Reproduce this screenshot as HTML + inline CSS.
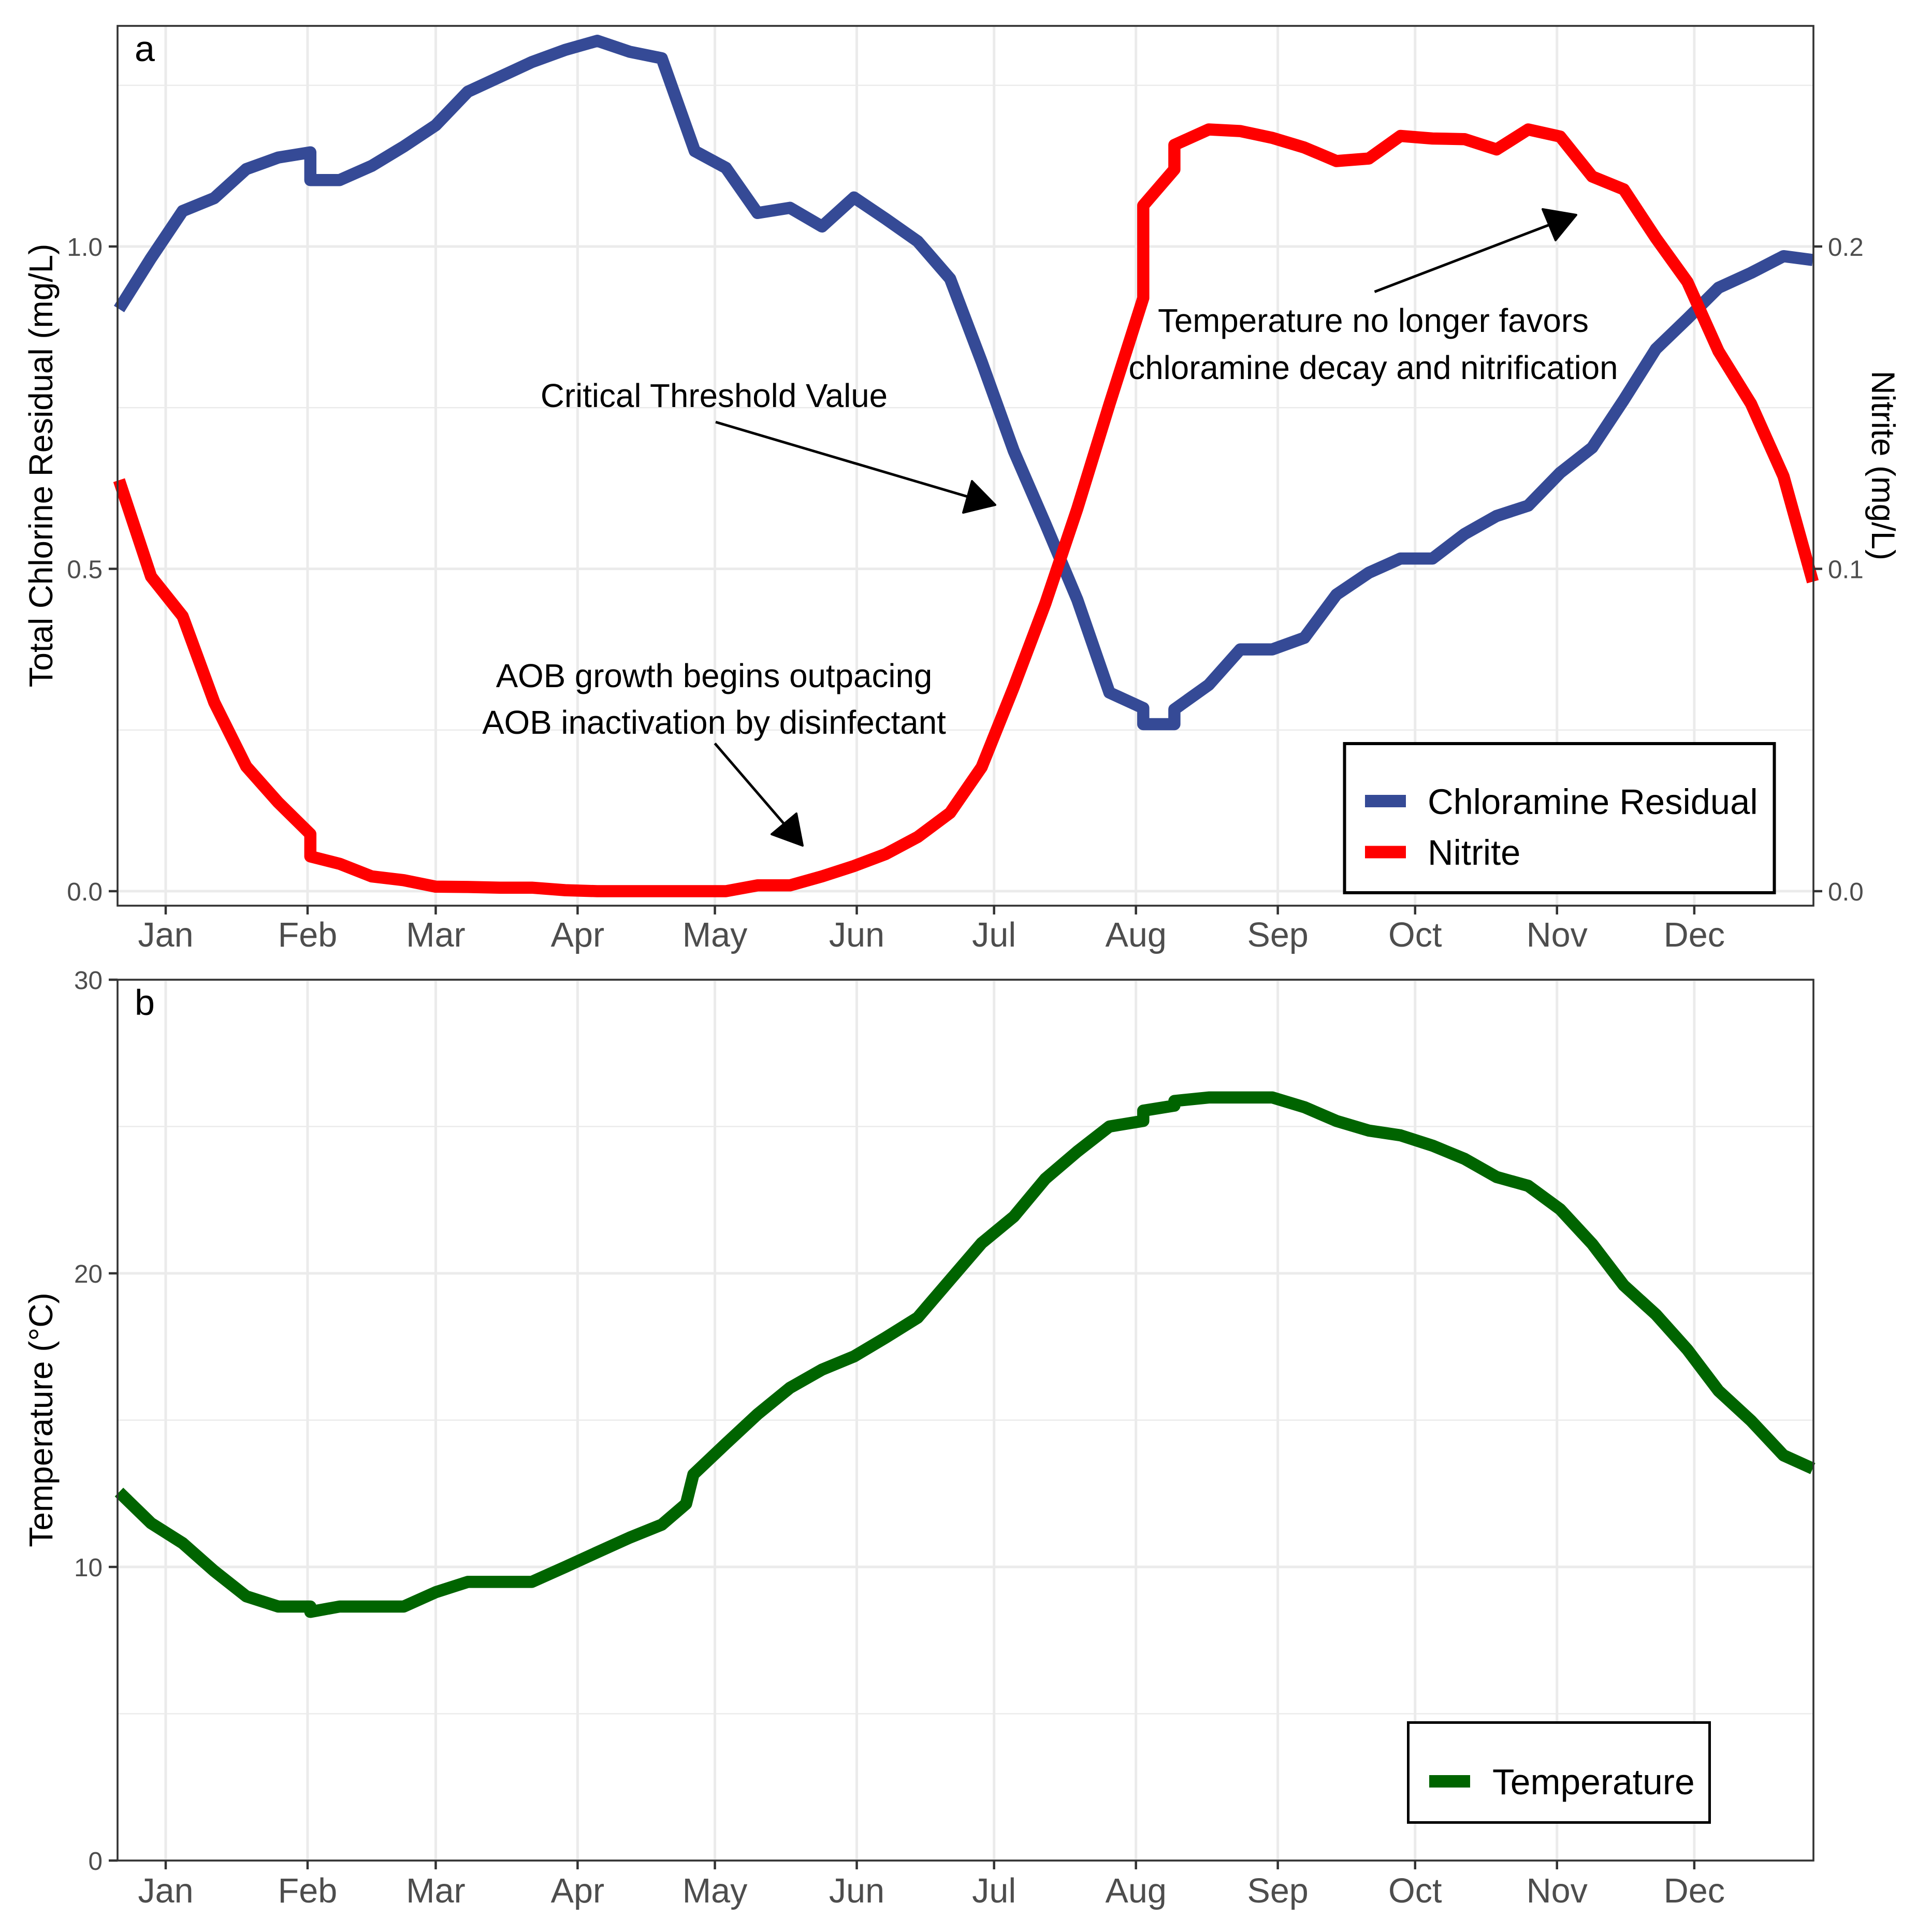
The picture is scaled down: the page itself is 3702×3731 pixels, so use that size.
<!DOCTYPE html>
<html lang="en">
<head>
<meta charset="utf-8">
<title>Chloramine residual, nitrite and temperature</title>
<style>
html,body{margin:0;padding:0;background:#fff;}
svg{display:block;font-family:"Liberation Sans",Arial,sans-serif;}
</style>
</head>
<body>
<svg id="chart" xmlns="http://www.w3.org/2000/svg" width="3702" height="3731" viewBox="0 0 3702 3731">
  <rect width="3702" height="3731" fill="#fff"/>
  <g id="grid-layer"></g>
  <g id="series-layer"></g>
  <g id="axis-layer"></g>

  <text x="260" y="118" font-size="70" fill="#000">a</text>
  <text x="260" y="1960" font-size="70" fill="#000">b</text>

  <text transform="translate(101,899) rotate(-90)" text-anchor="middle" font-size="63.7" fill="#000">Total Chlorine Residual (mg/L)</text>
  <text transform="translate(3615,899) rotate(90)" text-anchor="middle" font-size="63.4" fill="#000">Nitrite (mg/L)</text>
  <text transform="translate(101,2742) rotate(-90)" text-anchor="middle" font-size="64" fill="#000">Temperature (°C)</text>

  <g>
    <text x="1379" y="786" text-anchor="middle" font-size="63.7" fill="#000">Critical Threshold Value</text>
    <line x1="1382" y1="815" x2="1875" y2="961" stroke="#000" stroke-width="5"/>
    <polygon points="1922,975 1877,929 1860,990" fill="#000" stroke="#000" stroke-width="4" stroke-linejoin="round"/>
  </g>
  <g>
    <text x="1379" y="1327" text-anchor="middle" font-size="63.7" fill="#000">AOB growth begins outpacing</text>
    <text x="1379" y="1417" text-anchor="middle" font-size="63.7" fill="#000">AOB inactivation by disinfectant</text>
    <line x1="1380.5" y1="1435.6" x2="1515" y2="1592" stroke="#000" stroke-width="5"/>
    <polygon points="1550,1633 1538,1571 1490,1611" fill="#000" stroke="#000" stroke-width="4" stroke-linejoin="round"/>
  </g>
  <g>
    <text x="2652" y="641" text-anchor="middle" font-size="63.7" fill="#000">Temperature no longer favors</text>
    <text x="2652" y="732" text-anchor="middle" font-size="63.7" fill="#000">chloramine decay and nitrification</text>
    <line x1="2654.5" y1="563.5" x2="2995" y2="433" stroke="#000" stroke-width="5"/>
    <polygon points="3044,415 2979,404 3004,464" fill="#000" stroke="#000" stroke-width="4" stroke-linejoin="round"/>
  </g>

  <g>
    <rect x="2596.5" y="1436" width="830" height="288" fill="#fff" stroke="#000" stroke-width="6"/>
    <rect x="2636" y="1535" width="79" height="24" fill="#354A96"/>
    <text x="2757" y="1572" font-size="68.7" fill="#000">Chloramine Residual</text>
    <rect x="2636" y="1633.5" width="79" height="24" fill="#FF0000"/>
    <text x="2757" y="1670" font-size="68.7" fill="#000">Nitrite</text>
  </g>
  <g>
    <rect x="2719.5" y="3326.5" width="582" height="193" fill="#fff" stroke="#000" stroke-width="5"/>
    <rect x="2760" y="3428" width="79" height="24" fill="#006400"/>
    <text x="2882" y="3465" font-size="69.6" fill="#000">Temperature</text>
  </g>
</svg>

<script>
// ---------- data ----------
const monthLabels = ["Jan","Feb","Mar","Apr","May","Jun","Jul","Aug","Sep","Oct","Nov","Dec"];
const monthStartDays = [0,31,59,90,120,151,181,212,243,273,304,334];

const chlorTicks = [0, 0.5, 1.0];
const chlorMinorTicks = [0.25, 0.75, 1.25];
const nitriteTicks = [0, 0.1, 0.2];
const tempTicks = [0, 10, 20, 30];
const tempMinorTicks = [5, 15, 25];

const sampleDays = [-10.2,-3.2,3.7,10.6,17.6,24.6,31.6,31.6,38,45,52,59,66,73,80,87.3,94.3,101.4,108.4,115.6,122.4,129.3,136.4,143.4,150.4,157.3,164.3,171.4,178.3,185.3,192.2,199.2,206.2,213.6,213.6,220.4,220.4,227.9,234.8,241.8,248.8,255.8,262.9,269.8,276.8,283.8,290.8,297.7,304.7,311.7,318.6,325.6,332.5,339.3,346.4,353.5,359.9];

const chloramine = [0.903,0.982,1.055,1.075,1.120,1.138,1.146,1.103,1.103,1.125,1.155,1.188,1.240,1.263,1.286,1.305,1.319,1.302,1.292,1.148,1.122,1.052,1.060,1.031,1.076,1.043,1.008,0.950,0.821,0.683,0.570,0.452,0.308,0.284,0.259,0.259,0.282,0.320,0.375,0.375,0.393,0.460,0.494,0.516,0.516,0.554,0.582,0.598,0.649,0.688,0.762,0.841,0.888,0.936,0.959,0.985,0.979];

const nitrite = [0.1275,0.0976,0.0853,0.0586,0.0387,0.0275,0.0177,0.0108,0.0085,0.0046,0.0034,0.0014,0.0013,0.0011,0.0011,0.0003,0,0,0,0,0,0.0018,0.0018,0.0046,0.0078,0.0115,0.0168,0.0243,0.0385,0.0633,0.0892,0.1187,0.151,0.184,0.2127,0.2239,0.2315,0.2363,0.2358,0.2337,0.2307,0.2265,0.2273,0.2343,0.2335,0.2333,0.2301,0.2363,0.2341,0.2217,0.2177,0.2026,0.189,0.1675,0.1512,0.1287,0.096];

const tempDays = [-10.2,-3.2,3.7,10.6,17.6,24.6,31.6,31.6,38,45,52,59,66,73,80,87.3,94.3,101.4,108.4,113.7,115.3,122.4,129.3,136.4,143.4,150.4,157.3,164.3,171.4,178.3,185.3,192.2,199.2,206.2,213.6,213.6,220.4,220.4,227.9,234.8,241.8,248.8,255.8,262.9,269.8,276.8,283.8,290.8,297.7,304.7,311.7,318.6,325.6,332.5,339.3,346.4,353.5,359.9];

const temperature = [12.55,11.49,10.81,9.86,9.0,8.65,8.65,8.47,8.65,8.65,8.65,9.14,9.49,9.49,9.49,10.0,10.5,11.0,11.44,12.15,13.15,14.2,15.2,16.1,16.72,17.17,17.81,18.49,19.78,21.03,21.93,23.22,24.15,25.0,25.19,25.54,25.71,25.87,25.99,25.99,25.99,25.66,25.19,24.86,24.7,24.35,23.9,23.28,22.98,22.18,21.0,19.59,18.6,17.4,16.0,14.98,13.8,13.35];

// ---------- scales ----------
const NS = "http://www.w3.org/2000/svg";
const plotLeft = 227, plotRight = 3502;
const panelATop = 50, panelABottom = 1749;
const panelBTop = 1892, panelBBottom = 3593;

function xDay(d){ return 320 + d * 8.838; }
function yChlor(v){ return 1721 - v * 1245; }
function yNitrite(v){ return 1721 - v * 6225; }
function yTemp(v){ return 3593 - v * 56.7; }

function mk(tag, parent){
  const el = document.createElementNS(NS, tag);
  parent.appendChild(el);
  return el;
}
function setLine(el, x1, y1, x2, y2, stroke, width){
  el.setAttribute("x1", x1);
  el.setAttribute("y1", y1);
  el.setAttribute("x2", x2);
  el.setAttribute("y2", y2);
  el.setAttribute("stroke", stroke);
  el.setAttribute("stroke-width", width);
}
function setText(el, x, y, anchor, size, fill, str){
  el.setAttribute("x", x);
  el.setAttribute("y", y);
  el.setAttribute("text-anchor", anchor);
  el.setAttribute("font-size", size);
  el.setAttribute("fill", fill);
  el.textContent = str;
}

const gridLayer = document.getElementById("grid-layer");
const seriesLayer = document.getElementById("series-layer");
const axisLayer = document.getElementById("axis-layer");
const GRID = "#EBEBEB", AXIS = "#333333", TICKTXT = "#4D4D4D";

// ---------- gridlines ----------
chlorMinorTicks.forEach(function(v){
  const l = mk("line", gridLayer);
  
  
  setLine(l, plotLeft, yChlor(v), plotRight, yChlor(v), GRID, 2.6);
});
chlorTicks.forEach(function(v){
  const l = mk("line", gridLayer);
  
  
  setLine(l, plotLeft, yChlor(v), plotRight, yChlor(v), GRID, 5);
});
tempMinorTicks.forEach(function(v){
  const l = mk("line", gridLayer);
  
  
  setLine(l, plotLeft, yTemp(v), plotRight, yTemp(v), GRID, 2.6);
});
tempTicks.forEach(function(v){
  const l = mk("line", gridLayer);
  
  
  setLine(l, plotLeft, yTemp(v), plotRight, yTemp(v), GRID, 5);
});
monthStartDays.forEach(function(d){
  const a = mk("line", gridLayer);
  
  
  setLine(a, xDay(d), panelATop, xDay(d), panelABottom, GRID, 5);
  const b = mk("line", gridLayer);
  
  
  setLine(b, xDay(d), panelBTop, xDay(d), panelBBottom, GRID, 5);
});

// ---------- series ----------
function pathFrom(days, values, yFn){
  return days.map(function(d, i){
    return (i ? "L" : "M") + xDay(d).toFixed(1) + " " + yFn(values[i]).toFixed(1);
  }).join("");
}
function styleSeries(p, d, color){
  p.setAttribute("d", d);
  p.setAttribute("fill", "none");
  p.setAttribute("stroke", color);
  p.setAttribute("stroke-width", "23.5");
  p.setAttribute("stroke-linejoin", "round");
  p.setAttribute("stroke-linecap", "butt");
}
const chlorLine = mk("path", seriesLayer);


styleSeries(chlorLine, pathFrom(sampleDays, chloramine, yChlor), "#354A96");

const nitriteLine = mk("path", seriesLayer);


styleSeries(nitriteLine, pathFrom(sampleDays, nitrite, yNitrite), "#FF0000");

const tempLine = mk("path", seriesLayer);


styleSeries(tempLine, pathFrom(tempDays, temperature, yTemp), "#006400");

// ---------- panel borders ----------
const borderA = mk("rect", axisLayer);


borderA.setAttribute("x", plotLeft);
borderA.setAttribute("y", panelATop);
borderA.setAttribute("width", plotRight - plotLeft);
borderA.setAttribute("height", panelABottom - panelATop);
borderA.setAttribute("fill", "none");
borderA.setAttribute("stroke", AXIS);
borderA.setAttribute("stroke-width", "3.6");

const borderB = mk("rect", axisLayer);


borderB.setAttribute("x", plotLeft);
borderB.setAttribute("y", panelBTop);
borderB.setAttribute("width", plotRight - plotLeft);
borderB.setAttribute("height", panelBBottom - panelBTop);
borderB.setAttribute("fill", "none");
borderB.setAttribute("stroke", AXIS);
borderB.setAttribute("stroke-width", "3.6");

// ---------- x ticks ----------
monthStartDays.forEach(function(d, i){
  const t1 = mk("line", axisLayer);
  
  
  setLine(t1, xDay(d), panelABottom, xDay(d), panelABottom + 17, AXIS, 4.5);
  const l1 = mk("text", axisLayer);
  
  
  setText(l1, xDay(d), 1828, "middle", 66.5, TICKTXT, monthLabels[i]);
  const t2 = mk("line", axisLayer);
  
  
  setLine(t2, xDay(d), panelBBottom, xDay(d), panelBBottom + 17, AXIS, 4.5);
  const l2 = mk("text", axisLayer);
  
  
  setText(l2, xDay(d), 3674, "middle", 66.5, TICKTXT, monthLabels[i]);
});

// ---------- y ticks ----------
chlorTicks.forEach(function(v){
  const t = mk("line", axisLayer);
  
  
  setLine(t, plotLeft - 17, yChlor(v), plotLeft, yChlor(v), AXIS, 4.5);
  const l = mk("text", axisLayer);
  
  
  setText(l, 198, yChlor(v) + 18, "end", 49.5, TICKTXT, v.toFixed(1));
});
nitriteTicks.forEach(function(v){
  const t = mk("line", axisLayer);
  
  
  setLine(t, plotRight, yNitrite(v), plotRight + 17, yNitrite(v), AXIS, 4.5);
  const l = mk("text", axisLayer);
  
  
  setText(l, 3530, yNitrite(v) + 18, "start", 49.5, TICKTXT, v.toFixed(1));
});
tempTicks.forEach(function(v){
  const t = mk("line", axisLayer);
  
  
  setLine(t, plotLeft - 17, yTemp(v), plotLeft, yTemp(v), AXIS, 4.5);
  const l = mk("text", axisLayer);
  
  
  setText(l, 198, yTemp(v) + 18, "end", 49.5, TICKTXT, String(v));
});
</script>
</body>
</html>
